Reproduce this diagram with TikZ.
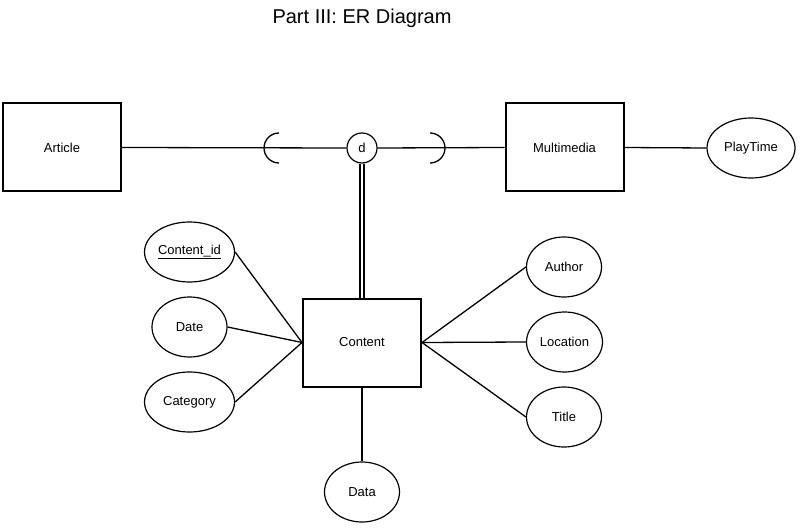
\documentclass[tikz,border=0pt]{standalone}
\usepackage{fontspec}
\setmainfont{Liberation Sans}
\usetikzlibrary{shapes.geometric}
\begin{document}
\begin{tikzpicture}[x=1pt,y=-1pt,
  entity/.style={draw, line width=2pt, minimum width=118pt, minimum height=88pt, inner sep=0pt, font=\fontsize{13}{15}\selectfont},
  attr/.style={draw, ellipse, line width=1.2pt, inner sep=0pt, font=\fontsize{13}{15}\selectfont},
  conn/.style={line width=1.3pt},
  dnode/.style={draw, circle, line width=1.2pt, minimum size=30pt, inner sep=0pt, font=\fontsize{13}{15}\selectfont}]
\useasboundingbox (0,0) rectangle (810,529);
\node[font=\fontsize{20}{24}\selectfont] (title) at (362,18) {Part III: ER Diagram};
\node[entity] (article) at (62,147.5) {Article};
\node[entity] (multi) at (564.5,147.5) {Multimedia};
\node[entity] (content) at (362,342.5) {Content};
\node[dnode] (d) at (362,148) {d};
\node[attr, minimum width=88pt, minimum height=60pt] (play) at (751,148) {PlayTime};
\node[attr, minimum width=90pt, minimum height=60pt] (cid) at (189.5,252) {\underline{Content\_id}};
\node[attr, minimum width=75pt, minimum height=60pt] (date) at (189.5,327) {Date};
\node[attr, minimum width=90pt, minimum height=60pt] (cat) at (189.5,402) {Category};
\node[attr, minimum width=75pt, minimum height=60pt] (author) at (564,267) {Author};
\node[attr, minimum width=76pt, minimum height=60pt] (loc) at (564.5,342) {Location};
\node[attr, minimum width=75pt, minimum height=60pt] (titleattr) at (564,417) {Title};
\node[attr, minimum width=75pt, minimum height=60pt] (data) at (362,492) {Data};
% connectors
\draw[conn] (article.east) -- (d.west);
\draw[conn] (d.east) -- (multi.west);
\draw[conn] (multi.east) -- (play.west);
\draw[line width=2.2pt, double, double distance=2pt] (d.south) -- (content.north);
\draw[conn] (cid.east) -- (content.west);
\draw[conn] (date.east) -- (content.west);
\draw[conn] (cat.east) -- (content.west);
\draw[conn] (content.east) -- (author.west);
\draw[conn] (content.east) -- (loc.west);
\draw[conn] (content.east) -- (titleattr.west);
\draw[conn] (content.south) -- (data.north);
% subset arcs
\draw[line width=1.3pt] (279,163) arc[start angle=90, end angle=270, radius=15];
\draw[line width=1.3pt] (430,163) arc[start angle=90, end angle=-90, radius=15];
\end{tikzpicture}
\end{document}
